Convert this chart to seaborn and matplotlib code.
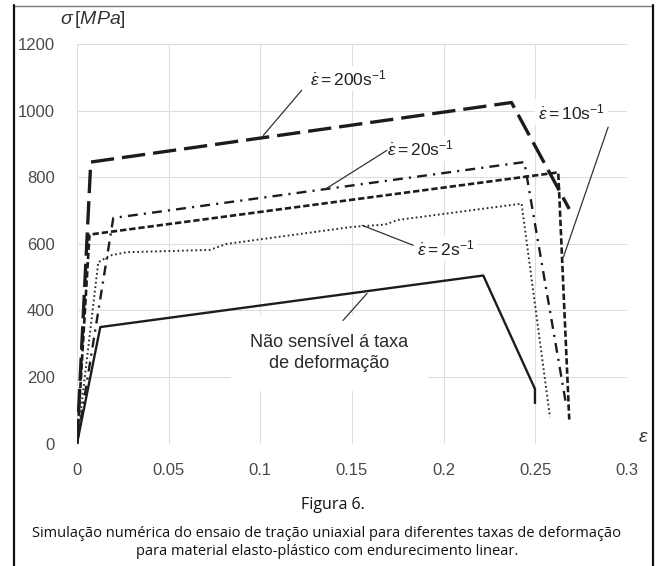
import matplotlib
matplotlib.use("Agg")
import matplotlib.pyplot as plt
import seaborn as sns
import pandas as pd
from matplotlib.lines import Line2D

# ---- data ----
eps_200 = [0.0, 0.0075, 0.237, 0.2685]
sig_200 = [0, 846, 1025, 705]

eps_20 = [0.0, 0.0198, 0.2440, 0.2670]
sig_20 = [0, 678, 846, 110]

eps_10 = [0.0, 0.0068, 0.2625, 0.2685]
sig_10 = [0, 628, 815, 72]

eps_2 = [0.0, 0.0116, 0.018, 0.027, 0.0725, 0.0816, 0.150, 0.168, 0.175, 0.2425, 0.258]
sig_2 = [0, 545, 565, 575, 582, 600, 651, 658, 672, 721, 79]

eps_ns = [0.0, 0.0127, 0.2216, 0.2498, 0.2498]
sig_ns = [0, 350, 505, 164, 119]

x_ticks = [0, 0.05, 0.1, 0.15, 0.2, 0.25, 0.3]
x_tick_labels = ["0", "0.05", "0.1", "0.15", "0.2", "0.25", "0.3"]
y_ticks = [0, 200, 400, 600, 800, 1000, 1200]
y_tick_labels = ["0", "200", "400", "600", "800", "1000", "1200"]

label_200 = r"$\dot{\varepsilon} = 200\mathrm{s}^{-1}$"
label_20 = r"$\dot{\varepsilon} = 20\mathrm{s}^{-1}$"
label_10 = r"$\dot{\varepsilon} = 10\mathrm{s}^{-1}$"
label_2 = r"$\dot{\varepsilon} = 2\mathrm{s}^{-1}$"
label_ns = "Não sensível á taxa\nde deformação"
fig_title = "Figura 6."
caption = ("Simulação numérica do ensaio de tração uniaxial para diferentes taxas de deformação\n"
           "para material elasto-plástico com endurecimento linear.")

# ---- style ----
sns.set_style("white")
plt.rcParams["font.family"] = ["Liberation Sans", "DejaVu Sans"]
plt.rcParams["mathtext.fontset"] = "custom"
plt.rcParams["mathtext.rm"] = "Liberation Sans"
plt.rcParams["mathtext.it"] = "Liberation Sans:italic"
plt.rcParams["mathtext.bf"] = "Liberation Sans:bold"

fig = plt.figure(figsize=(6.56, 5.66), dpi=100)
W, H = 656, 566
ax = fig.add_axes([77 / W, (H - 443.5) / H, 550 / W, (443.5 - 44.3) / H])

series = [
    (eps_200, sig_200, 2.4, (7.0, 2.4), "#1c1c1c"),
    (eps_20, sig_20, 1.7, (4.2, 2.6, 0.9, 2.6), "#1c1c1c"),
    (eps_10, sig_10, 1.9, (2.4, 1.1), "#1c1c1c"),
    (eps_2, sig_2, 1.4, (0.9, 1.4), "#2a2a2a"),
    (eps_ns, sig_ns, 1.7, None, "#1c1c1c"),
]
for xs, ys, lw, dash, col in series:
    df = pd.DataFrame({"eps": xs, "sig": ys})
    sns.lineplot(data=df, x="eps", y="sig", sort=False, estimator=None,
                 color=col, lw=lw, ax=ax, zorder=4)
    ln = ax.lines[-1]
    if dash is not None:
        ln.set_dashes(dash)
    ln.set_solid_capstyle("butt")
    ln.set_dash_capstyle("butt")

ax.set_xlim(0, 0.3)
ax.set_ylim(0, 1200)
ax.set_xticks(x_ticks)
ax.set_xticklabels(x_tick_labels)
ax.set_yticks(y_ticks)
ax.set_yticklabels(y_tick_labels)
ax.set_xlabel("")
ax.set_ylabel("")
ax.tick_params(axis="both", length=0, labelsize=12, labelcolor="#4a4a4a")
ax.tick_params(axis="x", pad=14)
ax.tick_params(axis="y", pad=16)
for s in ax.spines.values():
    s.set_visible(False)
ax.grid(True, color="#dedede", lw=0.8)
ax.set_axisbelow(True)

txt_kw = dict(fontsize=12.5, color="#222222", zorder=3,
              bbox=dict(facecolor="white", edgecolor="none", pad=2))
ax.text(0.1271, 1097, label_200, ha="left", va="center", **txt_kw)
ax.text(0.169, 887, label_20, ha="left", va="center", **txt_kw)
ax.text(0.2515, 996, label_10, ha="left", va="center", **txt_kw)
ax.text(0.1853, 586, label_2, ha="left", va="center", **txt_kw)
ax.text(0.1375, 272, label_ns, ha="center", va="center", multialignment="center",
        fontsize=13, color="#2a2a2a", linespacing=1.25, zorder=3,
        bbox=dict(facecolor="white", edgecolor="none", pad=14))

# leader lines
leaders = [
    ([0.1226, 0.1016], [1062, 926]),
    ([0.169, 0.1353], [881, 764]),
    ([0.2897, 0.2653], [951, 560]),
    ([0.1833, 0.1555], [596, 656]),
    ([0.1451, 0.1582], [370, 451]),
]
for lx, ly in leaders:
    ax.plot(lx, ly, color="#333333", lw=0.9, zorder=5)

# axis labels
fig.text(93 / W, 1 - 20 / H, r"$\sigma\,[MPa]$", ha="center", va="center",
         fontsize=14, color="#333333")
fig.text(643 / W, 1 - 437 / H, r"$\varepsilon$", ha="center", va="center",
         fontsize=14, color="#333333")

# captions
fig.text(333 / W, 1 - 505 / H, fig_title, ha="center", va="center",
         fontsize=11.5, family=["Open Sans", "DejaVu Sans"], color="#111111")
fig.text(327 / W, 1 - 542.5 / H, caption, ha="center", va="center",
         fontsize=10.5, family=["Open Sans", "DejaVu Sans"], color="#111111",
         linespacing=1.3)

# frame lines
fig.add_artist(Line2D([12.5 / W, 652.5 / W], [1 - 5.5 / H, 1 - 5.5 / H],
                      color="#777777", lw=1.0))
fig.add_artist(Line2D([13.5 / W, 13.5 / W], [0, 1 - 5 / H], color="#111111", lw=1.6))
fig.add_artist(Line2D([652.5 / W, 652.5 / W], [0, 1 - 5 / H], color="#111111", lw=1.6))

fig.savefig("out.png", dpi=100)
